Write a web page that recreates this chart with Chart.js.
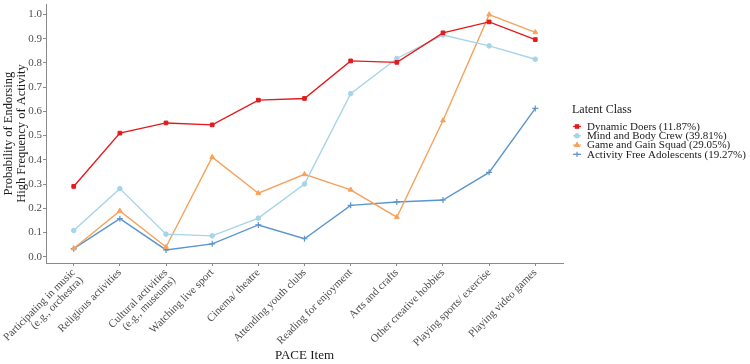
<!DOCTYPE html>
<html>
<head>
<meta charset="utf-8">
<script src="https://cdn.jsdelivr.net/npm/chart.js@4"></script>
<style>
  html, body { margin: 0; padding: 0; background: #fff; }
  #wrap { width: 750px; height: 364px; }
</style>
</head>
<body>
<div id="wrap"><canvas id="chart"></canvas></div>
<script>
"use strict"

// PACE items (x axis)
const categories = [
    ["Participating in music", "(e.g., orchestra)"],
    "Religious activities",
    ["Cultural activities", "(e.g., museums)"],
    "Watching live sport",
    "Cinema/ theatre",
    "Attending youth clubs",
    "Reading for enjoyment",
    "Arts and crafts",
    "Other creative hobbies",
    "Playing sports/ exercise",
    "Playing video games"
]

// probabilities per latent class
const dynamicDoers = [0.290, 0.510, 0.552, 0.544, 0.646, 0.653, 0.808, 0.802, 0.924, 0.969, 0.896]
const mindBody     = [0.108, 0.281, 0.093, 0.086, 0.159, 0.300, 0.673, 0.818, 0.915, 0.870, 0.815]
const gameGain     = [0.034, 0.189, 0.040, 0.411, 0.262, 0.340, 0.276, 0.163, 0.562, 0.999, 0.926]
const activityFree = [0.033, 0.157, 0.028, 0.053, 0.131, 0.074, 0.212, 0.226, 0.234, 0.348, 0.612]

const yTicks = [0, 0.1, 0.2, 0.3, 0.4, 0.5, 0.6, 0.7, 0.8, 0.9, 1.0]

const legendTitle = "Latent Class"
const seriesNames = [
    "Dynamic Doers (11.87%)",
    "Mind and Body Crew (39.81%)",
    "Game and Gain Squad (29.05%)",
    "Activity Free Adolescents (19.27%)"
]

const serif = "'Liberation Serif', 'DejaVu Serif', serif"

const toPoints = (arr) => arr.map((v, i) => ({ x: i, y: v }))

const makeSet = (label, values, color, style, radius) => ({
    label: label,
    data: toPoints(values),
    borderColor: color,
    backgroundColor: color,
    borderWidth: 1.4,
    pointStyle: style,
    pointRadius: radius,
    pointHoverRadius: radius,
    pointBorderWidth: style == 'cross' ? 1.2 : 1,
    tension: 0
})

// custom legend on the right, ggplot style
const sideLegend = {
    id: 'sideLegend',
    afterDraw(chart) {
        const ctx = chart.ctx
        ctx.save()
        ctx.fillStyle = '#1a1a1a'
        ctx.font = "12px " + serif
        ctx.textBaseline = 'middle'
        ctx.textAlign = 'left'
        ctx.fillText(legendTitle, 572, 110)
        ctx.font = "11px " + serif
        chart.data.datasets.forEach((ds, i) => {
            const y = 126.5 + i * 9.3
            ctx.strokeStyle = ds.borderColor
            ctx.lineWidth = 1.2
            ctx.beginPath()
            ctx.moveTo(573, y)
            ctx.lineTo(581, y)
            ctx.stroke()
            Chart.helpers.drawPoint(ctx, {
                pointStyle: ds.pointStyle,
                radius: ds.pointRadius * 0.9,
                rotation: 0,
                borderWidth: 1
            }, 577, y)
            ctx.fillStyle = ds.borderColor
            ctx.fill()
            ctx.fillStyle = '#1a1a1a'
            ctx.fillText(ds.label, 587, y + 0.5)
        })
        ctx.restore()
    }
}

const ctx = document.getElementById('chart').getContext('2d')
const myChart = new Chart(ctx, {
    type: 'line',
    data: {
        datasets: [
            makeSet(seriesNames[0], dynamicDoers, '#e41a1c', 'rect', 2.6),
            makeSet(seriesNames[1], mindBody, '#a6d4e8', 'circle', 2.3),
            makeSet(seriesNames[2], gameGain, '#f7a25c', 'triangle', 2.8),
            makeSet(seriesNames[3], activityFree, '#5b95cf', 'cross', 3)
        ]
    },
    options: {
        responsive: true,
        maintainAspectRatio: false,
        animation: false,
        devicePixelRatio: 1,
        layout: { padding: { top: 3, right: 187, bottom: 0, left: 0 } },
        plugins: {
            legend: { display: false },
            tooltip: { enabled: false }
        },
        scales: {
            x: {
                type: 'linear',
                min: -0.6,
                max: 10.6,
                afterBuildTicks: (scale) => {
                    scale.ticks = categories.map((c, i) => ({ value: i }))
                },
                afterFit: (scale) => {
                    scale.height = 101
                    scale.paddingLeft = 0
                    scale.paddingRight = 0
                },
                grid: { display: true, drawOnChartArea: false, drawTicks: true, tickLength: 3, color: '#8a8a8a' },
                border: { display: true, color: '#8a8a8a', width: 1 },
                ticks: {
                    autoSkip: false,
                    maxRotation: 45,
                    minRotation: 45,
                    padding: 1,
                    color: '#4d4d4d',
                    font: { family: serif, size: 11, lineHeight: 1.0 },
                    callback: (v) => categories[v]
                },
                title: {
                    display: true,
                    text: 'PACE Item',
                    color: '#1a1a1a',
                    font: { family: serif, size: 13, lineHeight: 1.0 },
                    padding: { top: 0, bottom: 1.5 }
                }
            },
            y: {
                type: 'linear',
                min: -0.026,
                max: 1.042,
                afterBuildTicks: (scale) => {
                    scale.ticks = yTicks.map(v => ({ value: v }))
                },
                afterFit: (scale) => {
                    scale.width = 46
                    scale.paddingTop = 0
                    scale.paddingBottom = 0
                },
                grid: { display: true, drawOnChartArea: false, drawTicks: true, tickLength: 3, color: '#8a8a8a' },
                border: { display: true, color: '#8a8a8a', width: 1 },
                ticks: {
                    padding: 1,
                    color: '#4d4d4d',
                    font: { family: serif, size: 11 },
                    callback: (v) => Number(v).toFixed(1)
                },
                title: {
                    display: true,
                    text: ["Probability of Endorsing", "High Frequency of Activity"],
                    color: '#1a1a1a',
                    font: { family: serif, size: 12.5, lineHeight: 1.0 },
                    padding: { top: 2.5, bottom: 0 }
                }
            }
        }
    },
    plugins: [sideLegend]
})
</script>
</body>
</html>
